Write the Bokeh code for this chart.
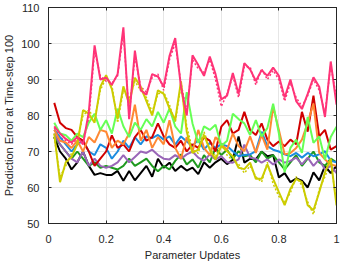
from bokeh.plotting import figure
from bokeh.models import LinearAxis, FixedTicker, Range1d
from bokeh.embed import file_html
from bokeh.resources import INLINE

x = [0.02, 0.04, 0.06, 0.08, 0.10, 0.12, 0.14, 0.16, 0.18, 0.20,
     0.22, 0.24, 0.26, 0.28, 0.30, 0.32, 0.34, 0.36, 0.38, 0.40,
     0.42, 0.44, 0.46, 0.48, 0.50, 0.52, 0.54, 0.56, 0.58, 0.60,
     0.62, 0.64, 0.66, 0.68, 0.70, 0.72, 0.74, 0.76, 0.78, 0.80,
     0.82, 0.84, 0.86, 0.88, 0.90, 0.92, 0.94, 0.96, 0.98, 1.00]

pink = [77, 75, 73.5, 72.5, 74, 72, 81, 99.5, 90, 90.5,
        88.5, 91.5, 104.5, 79, 98, 87, 85.8, 91.5, 90.8, 88,
        96.5, 101.5, 88, 80, 96.7, 94, 91, 96.4, 91.5, 84.5,
        85.5, 91.8, 86, 94.5, 92.8, 89.6, 92.6, 91, 93.3, 91,
        85, 90, 84, 81.8, 86, 90.6, 88, 79.6, 95, 83]
pink_d = [76.5, 74, 73, 72, 73.5, 72.5, 79, 98, 91, 89.5,
          89, 91, 103, 80, 96.5, 88, 86.5, 90.5, 91.5, 87,
          95.5, 100, 89, 81, 95.5, 93, 92, 95.5, 90, 82.5,
          86, 91, 85, 93.5, 93.5, 88.5, 93, 90, 92.5, 90,
          84, 89, 85, 82.5, 85.5, 90, 87, 80.5, 94, 85]
yellow = [75, 61.5, 67, 68.5, 72, 81.5, 80.5, 78, 88, 91.2,
          87.4, 79, 88.1, 83.3, 90.5, 88, 84, 80, 87, 86,
          82, 78.7, 89.5, 75.5, 69.6, 70.5, 74.6, 70.5, 67.8, 71.5,
          70.1, 68.7, 65.5, 65.1, 66.9, 62.4, 62.4, 66.4, 62.4, 58.7,
          55.1, 59.6, 62.4, 61.5, 55.1, 53.7, 58.7, 64.2, 68, 55]
yellow_d = [74, 63, 66, 69.5, 73, 80, 81.5, 79, 87, 90.5,
            88.5, 78, 87, 84.5, 89.5, 87, 85, 81, 86, 86.5,
            83, 78, 88.5, 77, 70.5, 69.5, 75.5, 71, 68.5, 72.5,
            69, 67.5, 66.5, 64, 66, 63, 61.5, 67, 61, 57.5,
            56, 58.5, 63, 60.5, 56, 52.5, 59.5, 63, 67, 56]
lgreen = [78, 75, 74.5, 73, 75, 74, 78, 80.5, 76, 78.7,
          75, 81.9, 77, 74, 78, 76, 79, 77, 81, 78,
          81.9, 77, 75, 86.5, 77.8, 72.4, 77, 76, 77.4, 71.5,
          73, 80.5, 79, 77.8, 74.6, 78.7, 74.2, 76.5, 83.3, 75,
          64.2, 71, 73.3, 69.6, 79.6, 72.4, 74.2, 67.8, 74, 76.9]
orange = [76, 73, 72.5, 71, 73, 70, 74, 72.5, 76, 75.5,
          71, 73, 72, 75, 83, 73, 76, 71, 74, 72,
          78.7, 71, 68, 74, 70, 76, 71, 69, 74, 72,
          70.5, 75, 71.5, 70.1, 74.2, 69.6, 74.6, 70.5, 82.4, 76,
          69.2, 69.6, 71, 73.3, 78, 83.3, 69.6, 67.8, 66.4, 66]
red = [83.5, 78, 76.5, 76, 74, 73, 70, 66, 68, 70,
       74.5, 71, 72, 70, 74, 76, 73, 74, 77.8, 74.2,
       72, 71, 73, 70, 72, 71, 74, 73, 70, 76.9,
       78.7, 75, 76, 81, 76, 74.6, 77.8, 73.3, 71.5, 72.8,
       71.5, 73.3, 72, 81, 75.5, 85.5, 74.2, 76, 70.5, 71.5]
blue = [76, 74, 72, 70, 72, 73, 70, 69, 72, 71,
        68, 70, 73, 71, 74, 72, 74.2, 73.7, 74.6, 73.3,
        74.2, 71.9, 74.2, 72.8, 71.5, 73.3, 70.5, 72.4, 71, 72,
        71.5, 70.1, 68.7, 69, 69.2, 70.1, 75.5, 71.5, 70.5, 70,
        69.2, 68.7, 69.6, 68.3, 69.6, 68.7, 69.2, 70.1, 67.4, 67]
purple = [75, 72, 70, 68, 67, 70, 66, 68, 66, 65.5,
          66, 67, 69, 67, 68.5, 70, 69.6, 70.5, 69, 68,
          67.8, 69, 68, 69.2, 70, 68.3, 67.4, 69.2, 67.8, 68.7,
          67, 66.9, 67.8, 71.9, 68.3, 68, 66.9, 67.8, 66.4, 67.8,
          66.9, 67.4, 68.3, 66.4, 68.3, 66, 67.8, 65, 66, 64]
dgreen = [74, 72, 70, 68, 70, 68, 66, 67, 65.5, 66,
          65.5, 65, 66, 68, 66, 67, 68, 66, 64.5, 66,
          65, 67.4, 69.2, 66.4, 67.8, 65.5, 69, 67, 71, 69,
          70.5, 68, 70.1, 68.7, 69, 67, 70, 68, 69, 67,
          65, 67, 69, 66, 68, 70, 67, 66, 68, 67]
black = [74, 70, 68, 65, 67, 70, 66, 63.5, 64, 63.5,
         63.5, 64.6, 61.9, 64.6, 62, 64, 66, 63, 68, 65.5,
         66.9, 64.6, 66, 64.7, 65.5, 63.7, 67, 65.5, 67, 68,
         66.5, 67.7, 74.2, 66.9, 68, 67.8, 70, 68.7, 69, 62.8,
         64, 61.5, 62.5, 61.9, 60, 64.2, 62, 66, 64, 66]

x_ticks = [0, 0.2, 0.4, 0.6, 0.8, 1]
x_tick_labels = ["0", "0.2", "0.4", "0.6", "0.8", "1"]
y_ticks = [50, 60, 70, 80, 90, 100, 110]
x_title = "Parameter Updates"
y_title = "Prediction Error at Time-step 100"

series = [
    (black, "#000000"),
    (dgreen, "#1F9A1F"),
    (purple, "#9A66B8"),
    (blue, "#1A8CE0"),
    (red, "#D00000"),
    (orange, "#FF8833"),
    (lgreen, "#66FF55"),
    (yellow, "#CCCC00"),
    (pink, "#FF3377"),
]
dashed = [(yellow_d, "#CCCC00"), (pink_d, "#FF3377")]

TXT = "#262626"
FONT = "Liberation Sans"

p = figure(width=345, height=263, output_backend="svg", toolbar_location=None,
           x_range=Range1d(0, 1), y_range=Range1d(50, 110),
           min_border_left=46, min_border_right=9, min_border_top=7,
           min_border_bottom=36, background_fill_color="white",
           border_fill_color="white")

for ys, c in dashed:
    p.line(x, ys, line_color=c, line_width=1.5, line_dash="2 2")
for ys, c in series:
    p.line(x, ys, line_color=c, line_width=2)

p.outline_line_color = TXT
p.outline_line_width = 1

# mirrored tick marks on top and right (box style)
p.add_layout(LinearAxis(ticker=FixedTicker(ticks=x_ticks)), "above")
p.add_layout(LinearAxis(ticker=FixedTicker(ticks=y_ticks)), "right")

for ax in p.axis:
    ax.major_tick_in = 3
    ax.major_tick_out = 0
    ax.minor_tick_line_color = None
    ax.axis_line_color = TXT
    ax.major_tick_line_color = TXT
    ax.major_label_text_color = TXT
    ax.major_label_text_font = FONT
    ax.major_label_text_font_size = "11px"
    ax.axis_label_text_font = FONT
    ax.axis_label_text_font_size = "11px"
    ax.axis_label_text_color = TXT
    ax.axis_label_text_font_style = "normal"

for ax in (p.above[0], p.right[0]):
    ax.major_label_text_font_size = "0px"
    ax.major_label_standoff = 0
    ax.major_label_text_alpha = 0

p.xaxis[0].ticker = FixedTicker(ticks=x_ticks)
p.xaxis[0].major_label_overrides = dict(zip(x_ticks, x_tick_labels))
p.yaxis[0].ticker = FixedTicker(ticks=y_ticks)
p.below[0].axis_label = x_title
p.left[0].axis_label = y_title
p.below[0].major_label_standoff = 7
p.below[0].axis_label_standoff = 3
p.left[0].major_label_standoff = 9
p.left[0].axis_label_standoff = 3

p.xgrid[0].ticker = FixedTicker(ticks=x_ticks)
p.ygrid[0].ticker = FixedTicker(ticks=y_ticks)
p.xgrid.grid_line_color = "#E6E6E6"
p.ygrid.grid_line_color = "#E6E6E6"

open("out.html", "w").write(file_html(p, INLINE))
